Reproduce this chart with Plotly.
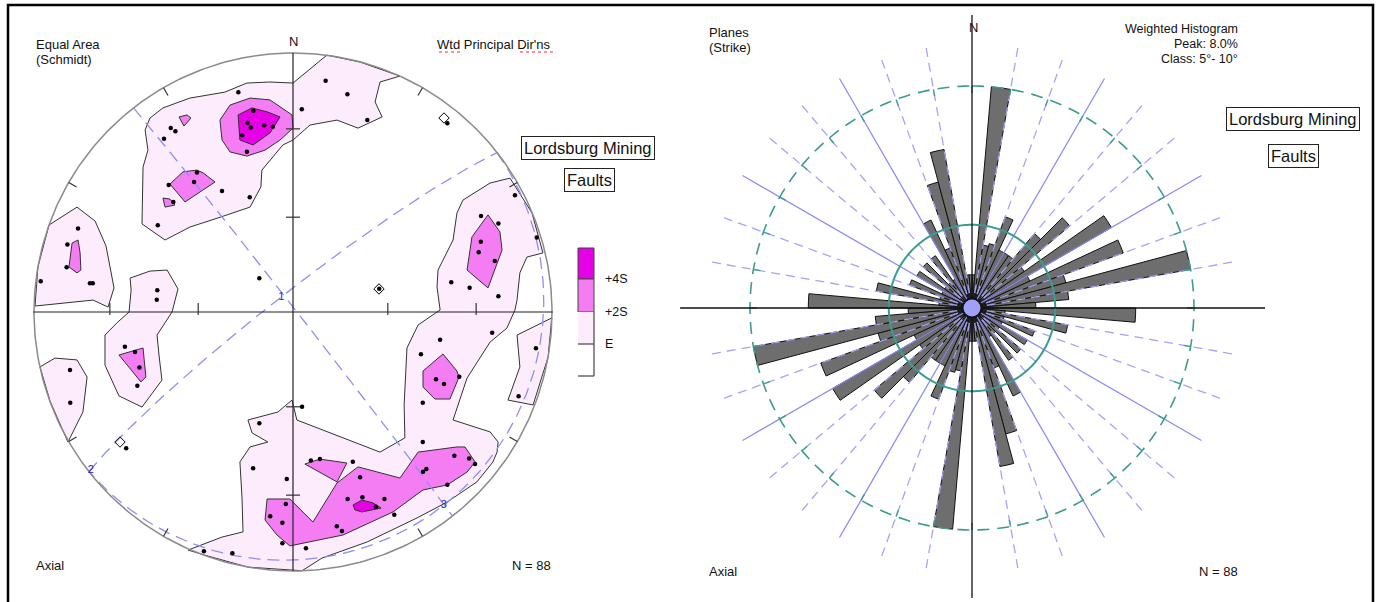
import numpy as np
import plotly.graph_objects as go

W, H = 1381, 602
FONT = "Liberation Sans, Arial, sans-serif"

# ---------------- Stereonet data (equal-area net, unit primitive, x = East, y = North) --------------
pole_x = [-0.211, -0.153, -0.176, -0.163, -0.111, -0.078, -0.196, -0.178, -0.472, -0.454,
          -0.498, -0.371, -0.382, -0.480, -0.462, -0.274, -0.167, -0.522, -0.830, -0.871,
          -0.874, -0.974, -0.784, -0.773, -0.524, -0.526, -0.130, 0.126, 0.210, 0.034,
          0.287, 0.596, 0.857, 0.726, 0.793, 0.941, 0.725, 0.717, 0.779, 0.611,
          0.682, 0.793, 0.333, -0.649, -0.610, -0.593, -0.601, -0.861, -0.860, -0.644,
          -0.130, -0.154, -0.024, -0.028, -0.088, -0.041, -0.041, -0.344, -0.234, 0.769,
          0.568, 0.494, 0.938, 0.552, 0.583, 0.642, 0.501, 0.871, 0.035, 0.501,
          0.623, 0.680, 0.703, 0.515, 0.502, 0.596, 0.069, 0.104, 0.231, 0.259,
          0.211, 0.268, 0.353, 0.320, 0.391, 0.169, 0.189, 0.050]
pole_y = [0.848, 0.777, 0.731, 0.712, 0.721, 0.715, 0.682, 0.619, 0.710, 0.698,
          0.669, 0.539, 0.502, 0.490, 0.425, 0.467, 0.443, 0.335, 0.322, 0.261,
          0.173, 0.119, 0.111, 0.111, 0.084, 0.047, 0.130, 0.893, 0.841, 0.783,
          0.741, 0.729, 0.451, 0.371, 0.342, 0.288, 0.271, 0.231, 0.197, 0.115,
          0.094, 0.061, 0.090, -0.134, -0.154, -0.214, -0.285, -0.224, -0.350, -0.526,
          -0.430, -0.603, -0.645, -0.741, -0.789, -0.814, -0.893, -0.924, -0.931, -0.080,
          -0.107, -0.163, -0.140, -0.260, -0.278, -0.250, -0.350, -0.325, -0.366, -0.502,
          -0.555, -0.566, -0.587, -0.606, -0.617, -0.667, -0.573, -0.568, -0.578, -0.638,
          -0.722, -0.715, -0.722, -0.752, -0.783, -0.827, -0.846, -0.912]

# marked poles (open diamonds)
mark_x = [0.332, 0.583, -0.668]
mark_y = [0.089, 0.749, -0.502]

# principal directions (trend, plunge)
pd_trend = [322, 232, 142]
pd_plunge = [84, 1, 6]
pd_label = ["1", "2", "3"]

# contour polygons, level E
E_north = [(-0.494, 0.278), (-0.583, 0.340), (-0.579, 0.560), (-0.560, 0.625), (-0.571, 0.703),
           (-0.552, 0.749), (-0.502, 0.788), (-0.398, 0.826), (-0.263, 0.849), (-0.178, 0.884),
           (-0.089, 0.888), (0.000, 0.884), (0.131, 0.992), (0.259, 0.965), (0.413, 0.911),
           (0.336, 0.888), (0.317, 0.811), (0.344, 0.753), (0.251, 0.710), (0.170, 0.741),
           (0.066, 0.722), (0.000, 0.664), (-0.039, 0.645), (-0.120, 0.548), (-0.124, 0.483),
           (-0.166, 0.405), (-0.290, 0.363), (-0.398, 0.328)]
E_west = [(-0.942, 0.336), (-0.834, 0.405), (-0.764, 0.351), (-0.722, 0.255), (-0.691, 0.093),
          (-0.714, 0.019), (-0.772, 0.046), (-0.842, 0.039), (-0.996, 0.023), (-0.985, 0.174)]
E_wcentral = [(-0.629, 0.131), (-0.552, 0.158), (-0.486, 0.162), (-0.444, 0.089), (-0.467, 0.000),
              (-0.525, -0.089), (-0.517, -0.170), (-0.506, -0.263), (-0.583, -0.367), (-0.672, -0.324),
              (-0.726, -0.205), (-0.726, -0.089), (-0.680, -0.042), (-0.633, 0.000), (-0.625, 0.085)]
E_southwest = [(-0.977, -0.212), (-0.919, -0.178), (-0.834, -0.185), (-0.795, -0.251),
               (-0.811, -0.386), (-0.869, -0.502), (-0.938, -0.344)]
E_southeast = [(0.838, 0.517), (0.923, 0.382), (0.965, 0.228), (0.903, 0.212), (0.876, 0.151),
               (0.865, 0.046), (0.857, 0.008), (0.826, -0.062), (0.761, -0.116), (0.672, -0.255),
               (0.618, -0.417), (0.761, -0.463), (0.792, -0.502), (0.788, -0.541), (0.772, -0.579),
               (0.710, -0.656), (0.595, -0.734), (0.479, -0.795), (0.286, -0.888), (0.112, -0.950),
               (0.035, -0.999), (-0.174, -0.985), (-0.344, -0.938), (-0.405, -0.919), (-0.274, -0.869),
               (-0.193, -0.849), (-0.197, -0.714), (-0.205, -0.579), (-0.166, -0.521), (-0.097, -0.502),
               (-0.158, -0.467), (-0.174, -0.417), (-0.058, -0.386), (-0.004, -0.340), (0.015, -0.417),
               (0.336, -0.541), (0.432, -0.486), (0.429, -0.359), (0.440, -0.139), (0.483, -0.050),
               (0.568, 0.008), (0.556, 0.097), (0.560, 0.162), (0.618, 0.278), (0.633, 0.382),
               (0.656, 0.432), (0.761, 0.498)]
E_east = [(0.999, -0.023), (0.865, -0.089), (0.876, -0.212), (0.830, -0.340), (0.927, -0.359),
          (0.985, -0.174)]

# contour polygons, level +2S
S2_north = [(-0.282, 0.741), (-0.243, 0.799), (-0.166, 0.826), (-0.089, 0.819), (-0.004, 0.761),
            (0.000, 0.710), (-0.050, 0.664), (-0.108, 0.625), (-0.178, 0.602), (-0.243, 0.618),
            (-0.274, 0.664)]
S2_nw_mid = [(-0.475, 0.494), (-0.425, 0.541), (-0.371, 0.548), (-0.347, 0.537), (-0.301, 0.502),
             (-0.417, 0.425)]
S2_nw_small = [(-0.502, 0.440), (-0.475, 0.436), (-0.456, 0.413), (-0.494, 0.405)]
S2_nw_top = [(-0.440, 0.753), (-0.409, 0.761), (-0.394, 0.749), (-0.421, 0.718)]
S2_west = [(-0.853, 0.266), (-0.830, 0.278), (-0.822, 0.228), (-0.819, 0.162), (-0.834, 0.151),
           (-0.865, 0.174)]
S2_wcentral = [(-0.672, -0.166), (-0.579, -0.139), (-0.568, -0.251), (-0.587, -0.270)]
S2_east_low = [(0.502, -0.228), (0.579, -0.162), (0.633, -0.228), (0.641, -0.251), (0.606, -0.336),
               (0.548, -0.336), (0.502, -0.290)]
S2_east_high = [(0.753, 0.375), (0.799, 0.309), (0.807, 0.239), (0.753, 0.093), (0.672, 0.162),
                (0.691, 0.290)]
S2_south = [(-0.100, -0.722), (-0.012, -0.722), (0.077, -0.811), (0.170, -0.660), (0.251, -0.598),
            (0.413, -0.641), (0.483, -0.541), (0.633, -0.521), (0.664, -0.521), (0.703, -0.579),
            (0.672, -0.618), (0.595, -0.668), (0.502, -0.687), (0.386, -0.772), (0.193, -0.861),
            (-0.012, -0.903), (-0.062, -0.861), (-0.108, -0.803)]
S2_south_tri = [(0.046, -0.587), (0.104, -0.568), (0.208, -0.583), (0.170, -0.656)]

# contour polygons, level +4S
S4_north = [(-0.212, 0.761), (-0.158, 0.788), (-0.097, 0.772), (-0.050, 0.753), (-0.089, 0.691),
            (-0.154, 0.645), (-0.205, 0.664)]
S4_south = [(0.232, -0.745), (0.266, -0.726), (0.309, -0.737), (0.340, -0.757), (0.266, -0.772),
            (0.239, -0.764)]

level_E = [E_north, E_west, E_wcentral, E_southwest, E_southeast, E_east]
level_2S = [S2_north, S2_nw_mid, S2_nw_small, S2_nw_top, S2_west, S2_wcentral,
            S2_east_low, S2_east_high, S2_south, S2_south_tri]
level_4S = [S4_north, S4_south]
level_colors = ["#fcecfc", "#f47df4", "#e600e6"]
legend_labels = ["+4S", "+2S", "E"]

# ---------------- Rose diagram data (axial, 5 degree classes, percent) ----------------
rose_bin_start = list(range(0, 180, 5))
rose_pct = [1.2, 8.0, 2.3, 2.4, 3.5, 2.3, 2.3, 2.3, 3.5, 4.6,
            2.3, 5.8, 2.3, 5.8, 3.5, 8.0, 3.5, 2.3, 5.9, 1.2,
            3.5, 1.2, 2.4, 1.2, 2.3, 1.2, 2.3, 1.2, 2.3, 1.2,
            3.5, 2.3, 4.7, 5.8, 1.2, 1.2]
rose_peak = 8.0
rose_ref = 3.0
rose_class = 5

# ---------------- helpers ----------------
def px(x):
    return x / W

def py(y):
    return 1 - y / H

def vec(tr, pl):
    t, p = np.radians(tr), np.radians(pl)
    return np.array([np.cos(p) * np.sin(t), np.cos(p) * np.cos(t), np.sin(p)])

def project(v):
    v = np.atleast_2d(v)
    v = np.where(v[:, 2:3] < 0, -v, v)
    h = np.hypot(v[:, 0], v[:, 1])
    r = np.sqrt(np.clip(1 - v[:, 2], 0, 1))
    hs = np.where(h < 1e-12, 1, h)
    return r * v[:, 0] / hs, r * v[:, 1] / hs

def great_circle(normal):
    z = np.array([0, 0, 1.0])
    a = np.cross(normal, z)
    a /= np.linalg.norm(a)
    b = np.cross(normal, a)
    b /= np.linalg.norm(b)
    if b[2] < 0:
        b = -b
    s = np.linspace(0, np.pi, 241)
    pts = np.outer(np.cos(s), a) + np.outer(np.sin(s), b)
    return project(pts)

fig = go.Figure()

# ---- contour fills ----
for polys, col in zip([level_E, level_2S, level_4S], level_colors):
    for poly in polys:
        xs = [p[0] for p in poly] + [poly[0][0]]
        ys = [p[1] for p in poly] + [poly[0][1]]
        fig.add_trace(go.Scatter(x=xs, y=ys, mode="lines", fill="toself", fillcolor=col,
                                 line=dict(color="#333333", width=1), hoverinfo="skip"))

# ---- principal planes (great circles) ----
vecs = [vec(t, p) for t, p in zip(pd_trend, pd_plunge)]
for k in range(3):
    gx, gy = great_circle(vecs[k])
    fig.add_trace(go.Scatter(x=gx, y=gy, mode="lines",
                             line=dict(color="#8f8ff2", width=1.3, dash="12px,7px"), hoverinfo="skip"))

# ---- primitive circle & axes ----
t = np.linspace(0, 2 * np.pi, 361)
fig.add_trace(go.Scatter(x=np.sin(t), y=np.cos(t), mode="lines",
                         line=dict(color="#8a8a8a", width=1.5), hoverinfo="skip"))
fig.add_trace(go.Scatter(x=[-1.003, 1.003], y=[0, 0], mode="lines",
                         line=dict(color="#222", width=1.2), hoverinfo="skip"))
fig.add_trace(go.Scatter(x=[0, 0], y=[1.0, -1.0], mode="lines",
                         line=dict(color="#222", width=1.2), hoverinfo="skip"))
tick_r = [float(np.sqrt(1 - np.sin(np.radians(p)))) for p in (60, 30)]
tx, ty = [], []
for r in tick_r:
    for sgn in (-1, 1):
        tx += [sgn * r, sgn * r, None]
        ty += [-0.012, 0.035, None]
        tx += [-0.027, 0.027, None]
        ty += [sgn * r, sgn * r, None]
for b in range(30, 360, 30):
    if b % 90 == 0:
        continue
    br = np.radians(b)
    tx += [np.sin(br), 0.965 * np.sin(br), None]
    ty += [np.cos(br), 0.965 * np.cos(br), None]
fig.add_trace(go.Scatter(x=tx, y=ty, mode="lines", line=dict(color="#333", width=1.2),
                         hoverinfo="skip"))

# ---- poles ----
fig.add_trace(go.Scatter(x=pole_x, y=pole_y, mode="markers",
                         marker=dict(color="black", size=4.5), hoverinfo="skip"))
fig.add_trace(go.Scatter(x=mark_x, y=mark_y, mode="markers",
                         marker=dict(symbol="diamond-open", color="black", size=8,
                                     line=dict(width=1)), hoverinfo="skip"))
lx, ly = project(np.array(vecs))
fig.add_trace(go.Scatter(x=lx, y=ly, mode="text", text=pd_label,
                         textfont=dict(color="#2424c8", size=11, family=FONT), hoverinfo="skip"))

# ---------------- Rose diagram (polar) ----------------
ray_len = 9.55
ax_len = 10.56
solid_t, solid_r, dash_t, dash_r = [], [], [], []
for a in range(0, 360, 10):
    if a % 90 == 0:
        continue
    if a % 30 == 0:
        solid_t += [a, a, None]; solid_r += [0, ray_len, None]
    else:
        dash_t += [a, a, None]; dash_r += [0, ray_len, None]
fig.add_trace(go.Scatterpolar(theta=solid_t, r=solid_r, mode="lines",
                              line=dict(color="#8c8cf0", width=1.3), hoverinfo="skip"))
fig.add_trace(go.Scatterpolar(theta=dash_t, r=dash_r, mode="lines",
                              line=dict(color="#a4a4f6", width=1.3, dash="9px,6px"), hoverinfo="skip"))

theta_c = [b + rose_class / 2 for b in rose_bin_start]
fig.add_trace(go.Barpolar(theta=theta_c + [c + 180 for c in theta_c], r=rose_pct + rose_pct,
                          width=rose_class, marker=dict(color="#6e6e6e",
                                                        line=dict(color="#111", width=1)),
                          hoverinfo="skip"))

circ_t = list(np.linspace(0, 360, 361))
fig.add_trace(go.Scatterpolar(theta=circ_t, r=[rose_peak] * len(circ_t), mode="lines",
                              line=dict(color="#3d9c90", width=1.6, dash="12px,8px"), hoverinfo="skip"))
fig.add_trace(go.Scatterpolar(theta=circ_t, r=[rose_ref] * len(circ_t), mode="lines",
                              line=dict(color="#3d9c90", width=2), hoverinfo="skip"))
kt, kr = [], []
for a in range(0, 360, 10):
    kt += [a, a, None]; kr += [rose_peak - 0.25, rose_peak, None]
fig.add_trace(go.Scatterpolar(theta=kt, r=kr, mode="lines",
                              line=dict(color="#3d9c90", width=1.4), hoverinfo="skip"))
fig.add_trace(go.Scatterpolar(theta=[0, 0, 180], r=[ax_len, 0, 10.45], mode="lines",
                              line=dict(color="#111", width=1.3), hoverinfo="skip"))
fig.add_trace(go.Scatterpolar(theta=[270, 270, 90], r=[10.52, 0, ax_len], mode="lines",
                              line=dict(color="#111", width=1.3), hoverinfo="skip"))
fig.add_trace(go.Scatterpolar(theta=[0], r=[0], mode="markers",
                              marker=dict(size=19, color="#a0a0f8", line=dict(color="#111", width=2)),
                              hoverinfo="skip"))

# ---------------- layout ----------------
cx, cy, R = 293, 312, 259
ann = []

def text(s, x, y, anchor="left", size=13, **kw):
    ann.append(dict(text=s, x=px(x), y=py(y), xref="paper", yref="paper", xanchor=anchor,
                    yanchor="middle", showarrow=False, font=dict(family=FONT, size=size, color="#111"),
                    **kw))

def boxed(s, x, y):
    text(s, x, y, anchor="center", size=16.5, bordercolor="#222", borderwidth=1, borderpad=2,
         bgcolor="white")

# left panel texts
text("Equal Area", 34, 45)
text("(Schmidt)", 34, 60)
text("N", 293, 41, anchor="center")
text("Wtd Principal Dir'ns", 553, 45, anchor="right")
boxed("Lordsburg Mining", 588, 147.5)
boxed("Faults", 589.5, 180)
text("Axial", 34, 565)
text("N = 88", 553, 565, anchor="right")
for lab, yy in zip(legend_labels, [279, 312, 344]):
    text(lab, 603, yy, size=12.5)

# right panel texts
text("Planes", 707, 33)
text("(Strike)", 707, 47)
text("N", 973, 27, anchor="center")
text("Weighted Histogram", 1240, 29.5, anchor="right", size=12.5)
text("Peak: 8.0%", 1240, 44, anchor="right", size=12.5)
text("Class: 5°- 10°", 1240, 59, anchor="right", size=12.5)
boxed("Lordsburg Mining", 1292.5, 119.5)
boxed("Faults", 1293, 156)
text("Axial", 707, 571)
text("N = 88", 1240, 571, anchor="right")

shapes = []
# colour legend
lx0, lx1 = 578, 594
shapes.append(dict(type="rect", xref="paper", yref="paper", x0=px(lx0), x1=px(lx1), y0=py(248), y1=py(279),
                   fillcolor=level_colors[2], line=dict(color="#444", width=1)))
shapes.append(dict(type="rect", xref="paper", yref="paper", x0=px(lx0), x1=px(lx1), y0=py(279), y1=py(312),
                   fillcolor=level_colors[1], line=dict(color="#444", width=1)))
shapes.append(dict(type="rect", xref="paper", yref="paper", x0=px(lx0), x1=px(lx1), y0=py(312), y1=py(344),
                   fillcolor=level_colors[0], line=dict(width=0)))
for (x0, y0, x1, y1) in [(lx1, 312, lx1, 376), (lx0, 344, lx1, 344), (lx0, 376, lx1, 376)]:
    shapes.append(dict(type="line", xref="paper", yref="paper", x0=px(x0), x1=px(x1), y0=py(y0), y1=py(y1),
                       line=dict(color="#444", width=1.2)))
# spell-check squiggles under header
for (x0, x1) in [(439, 462), (520, 553)]:
    shapes.append(dict(type="line", xref="paper", yref="paper", x0=px(x0), x1=px(x1), y0=py(52), y1=py(52),
                       line=dict(color="#e03030", width=1, dash="dot")))
# outer frame
shapes.append(dict(type="rect", xref="paper", yref="paper", x0=px(8), x1=px(1373), y0=py(612), y1=py(5),
                   line=dict(color="black", width=2.5), fillcolor="rgba(0,0,0,0)"))

fig.update_layout(
    width=W, height=H, margin=dict(l=0, r=0, t=0, b=0), template="none",
    paper_bgcolor="white", plot_bgcolor="rgba(0,0,0,0)", showlegend=False,
    xaxis=dict(domain=[0, 0.49], range=[(0 - cx) / R, (0.49 * W - cx) / R], visible=False,
               fixedrange=True),
    yaxis=dict(domain=[0, 1], range=[-(H - cy) / R, cy / R], visible=False, fixedrange=True),
    polar=dict(domain=dict(x=[(972 - 293) / W, (972 + 293) / W], y=[(294 - 293) / H, (294 + 293) / H]),
               bgcolor="rgba(0,0,0,0)",
               radialaxis=dict(range=[0, ax_len], visible=False, showgrid=False, showline=False),
               angularaxis=dict(rotation=90, direction="clockwise", visible=False, showgrid=False,
                                showline=False)),
    annotations=ann, shapes=shapes,
)

fig.write_html("out.html", config={"displayModeBar": False},
               post_script="document.body.style.margin='0';document.body.style.overflow='hidden';")
